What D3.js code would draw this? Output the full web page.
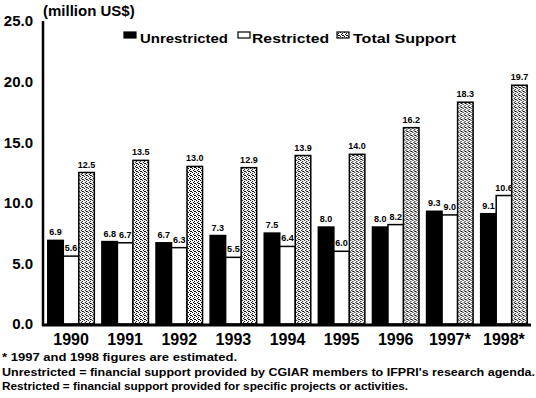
<!DOCTYPE html>
<html>
<head>
<meta charset="utf-8">
<script src="https://cdn.jsdelivr.net/npm/d3@7"></script>
<style>
  html, body { margin: 0; padding: 0; background: #fff; }
  svg { display: block; font-family: "Liberation Sans", Arial, sans-serif; font-weight: bold; }
</style>
</head>
<body>
<svg id="chart" width="536" height="398"></svg>
<script>
const categories = ["1990","1991","1992","1993","1994","1995","1996","1997*","1998*"];
const unrestricted = [6.9, 6.8, 6.7, 7.3, 7.5, 8.0, 8.0, 9.3, 9.1];
const restricted   = [5.6, 6.7, 6.3, 5.5, 6.4, 6.0, 8.2, 9.0, 10.6];
const totalSupport = [12.5, 13.5, 13.0, 12.9, 13.9, 14.0, 16.2, 18.3, 19.7];
const seriesNames = ["Unrestricted", "Restricted", "Total Support"];
const yTicks = [0, 5, 10, 15, 20, 25];
const footnotes = [
  "* 1997 and 1998 figures are estimated.",
  "Unrestricted = financial support provided by CGIAR members to IFPRI's research agenda.",
  "Restricted = financial support provided for specific projects or activities."
];

const svg = d3.select("#chart");

// stipple pattern
const defs = svg.append("defs");
const pat = defs.append("pattern").attr("id", "stipple")
  .attr("width", 4).attr("height", 4).attr("patternUnits", "userSpaceOnUse");
pat.append("rect").attr("width", 4).attr("height", 4).attr("fill", "#fff");
[[0,0],[2,1],[1,2],[3,3],[2,3]].forEach(([px,py]) =>
  pat.append("rect").attr("x", px).attr("y", py).attr("width", 1).attr("height", 1).attr("fill", "#000"));

const fills = ["#000", "#fff", "url(#stipple)"];
const seriesData = [unrestricted, restricted, totalSupport];

const x = d3.scaleBand().domain(categories).range([44, 531]).paddingInner(0.14).paddingOuter(0.07);
const xs = d3.scaleBand().domain(d3.range(3)).range([0, x.bandwidth()]);
const y = d3.scaleLinear().domain([0, 25]).range([324, 21]);

// bars
const groups = svg.append("g").selectAll("g").data(categories).join("g")
  .attr("transform", d => `translate(${x(d)},0)`);

groups.each(function(cat, i) {
  const g = d3.select(this);
  seriesData.forEach((arr, s) => {
    const v = arr[i];
    g.append("rect")
      .attr("x", xs(s)).attr("y", y(v))
      .attr("width", xs.bandwidth()).attr("height", y(0) - y(v))
      .attr("fill", fills[s]).attr("stroke", "#000").attr("stroke-width", 1.5);
    g.append("text")
      .attr("x", xs(s) + xs.bandwidth() / 2).attr("y", y(v) - 5)
      .attr("text-anchor", "middle").attr("font-size", 9)
      .text(v.toFixed(1));
  });
});

// y axis
svg.append("line").attr("x1", 43).attr("x2", 43).attr("y1", 21).attr("y2", 326)
  .attr("stroke", "#000").attr("stroke-width", 2.5);
svg.append("g").selectAll("text").data(yTicks).join("text")
  .attr("x", 33).attr("y", d => y(d)).attr("dy", "0.36em")
  .attr("text-anchor", "end").attr("font-size", 15)
  .text(d => d.toFixed(1));

// x axis baseline
svg.append("line").attr("x1", 42).attr("x2", 531).attr("y1", y(0) + 1).attr("y2", y(0) + 1)
  .attr("stroke", "#000").attr("stroke-width", 3);
svg.append("g").selectAll("text").data(categories).join("text")
  .attr("x", d => x(d) + x.bandwidth() / 2).attr("y", 345)
  .attr("text-anchor", "middle").attr("font-size", 16)
  .text(d => d);

// unit label
svg.append("text").attr("x", 43).attr("y", 16).attr("font-size", 15).text("(million US$)");

// legend
const legendItems = [
  {sx: 124, tx: 140, tw: 88},
  {sx: 238, tx: 252, tw: 77},
  {sx: 337, tx: 353, tw: 103}
];
legendItems.forEach((it, s) => {
  svg.append("rect").attr("x", it.sx).attr("y", 32).attr("width", 12).attr("height", 6)
    .attr("fill", fills[s]).attr("stroke", "#000").attr("stroke-width", 1.2);
  svg.append("text").attr("x", it.tx).attr("y", 43).attr("font-size", 13)
    .attr("textLength", it.tw).attr("lengthAdjust", "spacingAndGlyphs")
    .text(seriesNames[s]);
});

// footnotes
const fnY = [361, 376, 390];
const fnW = [235, 533, 406];
footnotes.forEach((t, i) => {
  svg.append("text").attr("x", 2).attr("y", fnY[i]).attr("font-size", 11)
    .attr("textLength", fnW[i]).attr("lengthAdjust", "spacingAndGlyphs")
    .text(t);
});
</script>
</body>
</html>
